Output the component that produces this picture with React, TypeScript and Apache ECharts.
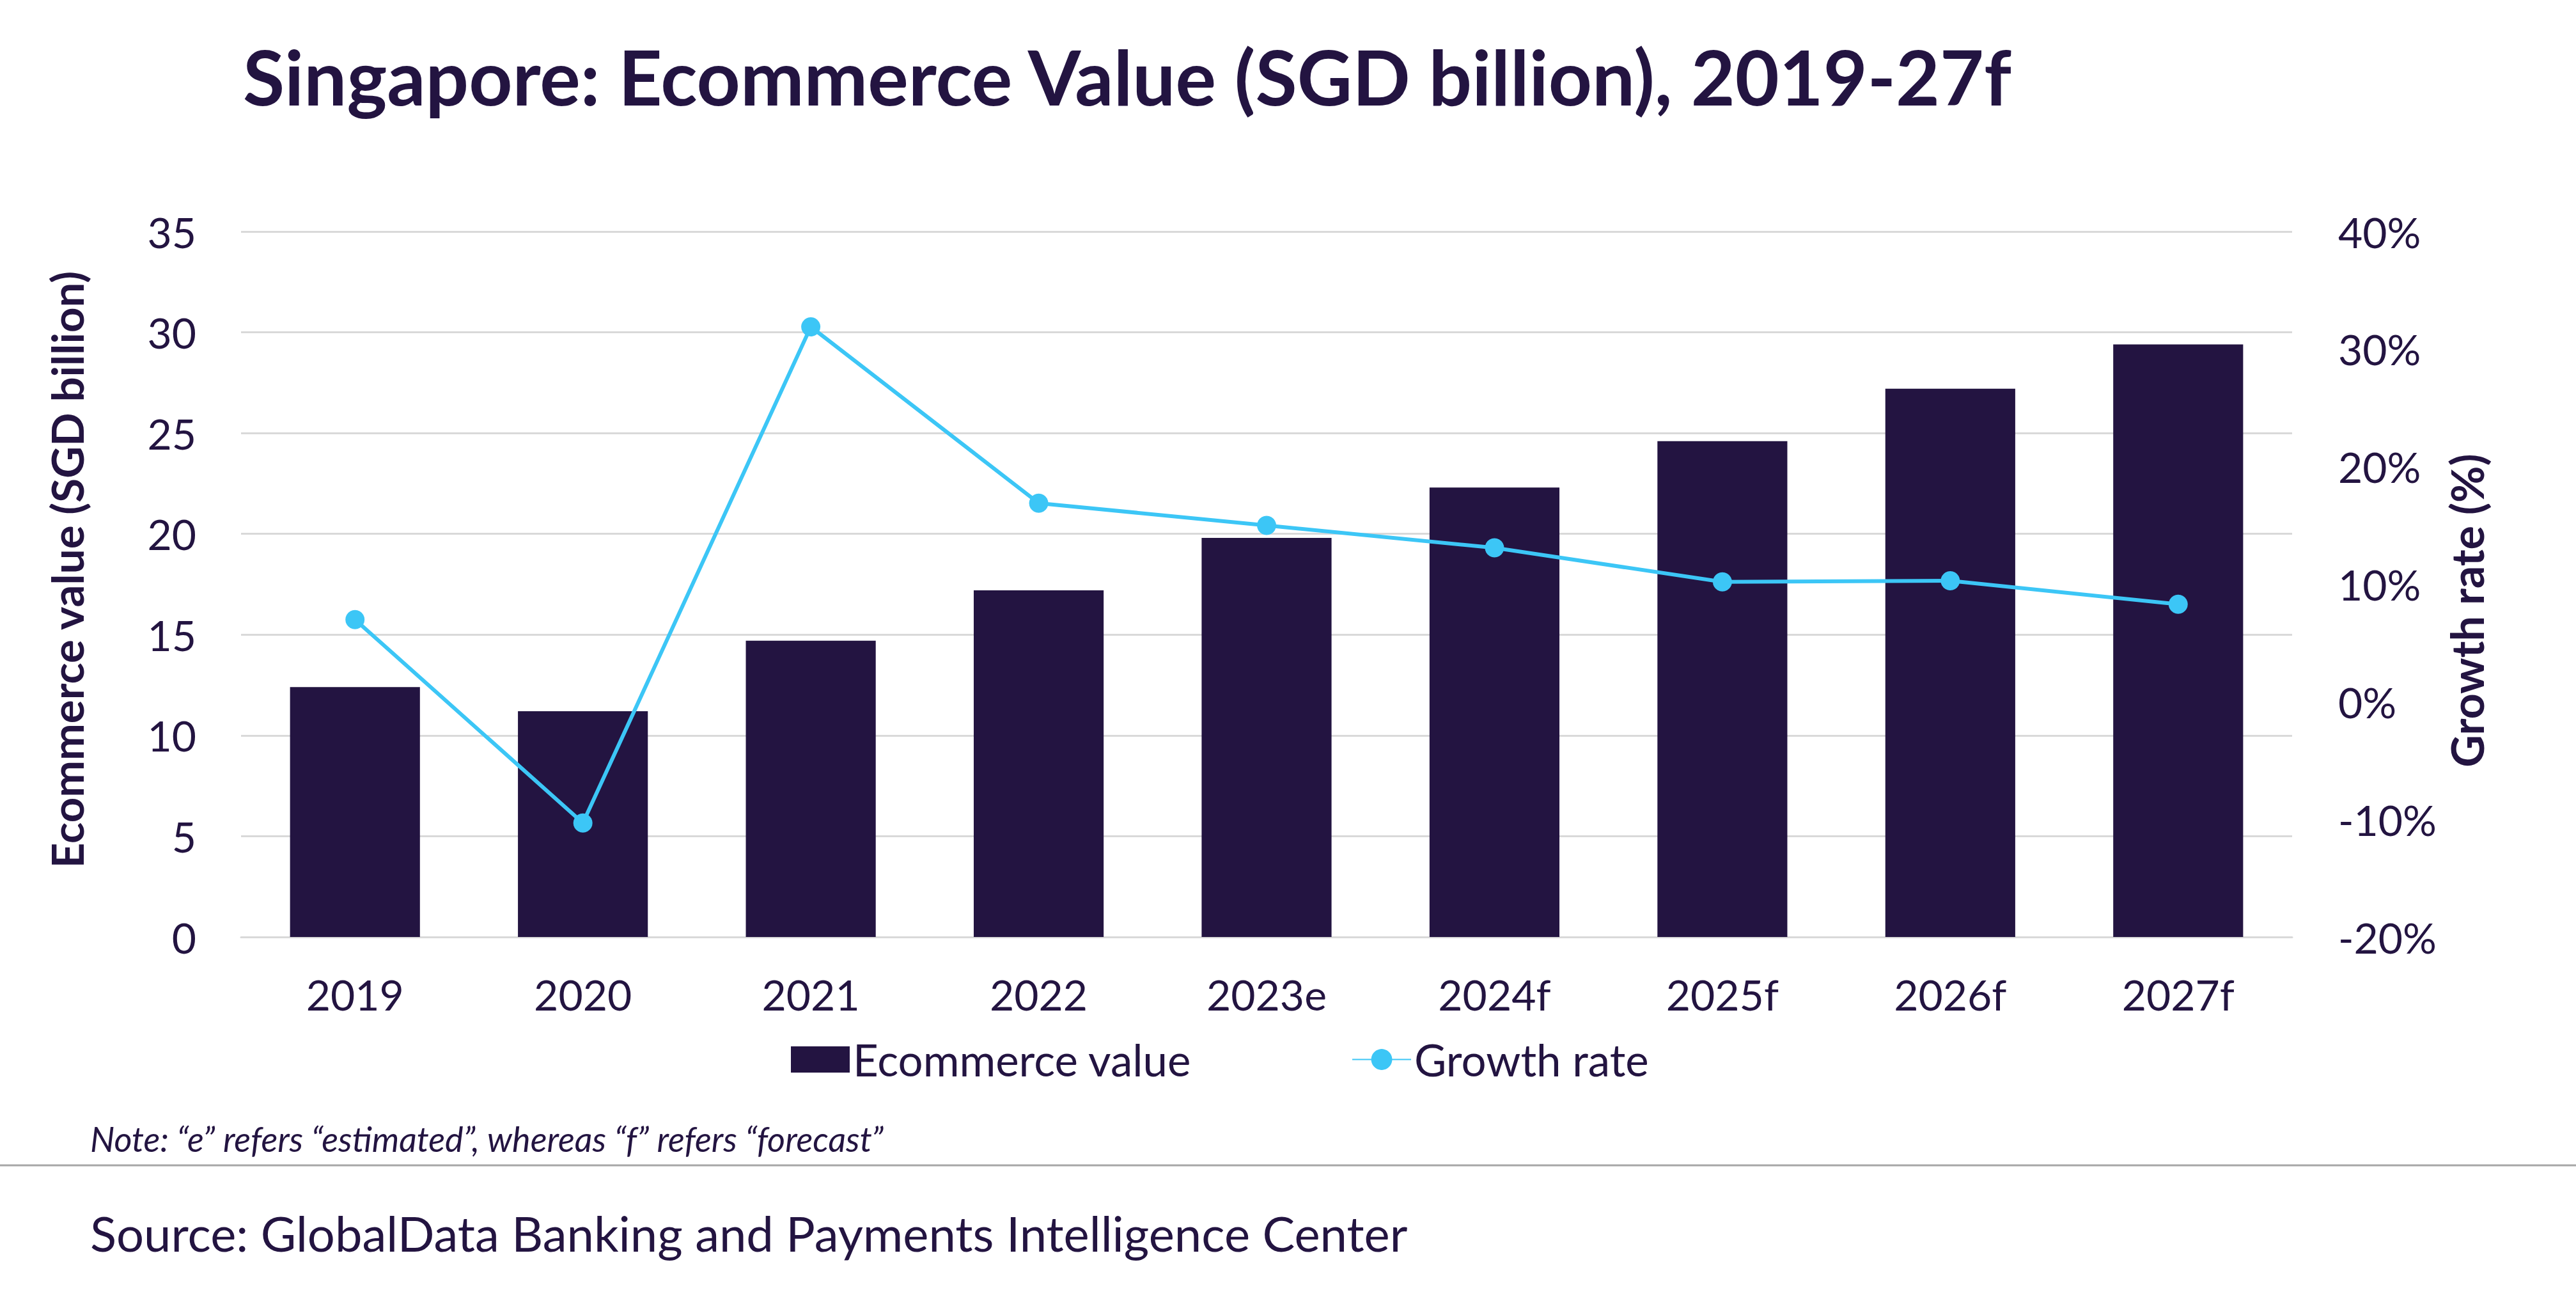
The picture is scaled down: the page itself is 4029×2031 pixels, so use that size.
import React, { useEffect, useRef } from "react";
import * as echarts from "echarts";

const categories = ["2019", "2020", "2021", "2022", "2023e", "2024f", "2025f", "2026f", "2027f"];
const ecommerceValue = [12.4, 11.2, 14.7, 17.2, 19.8, 22.3, 24.6, 27.2, 29.4];
const growthRate = [7.0, -10.3, 31.9, 16.9, 15.0, 13.1, 10.2, 10.3, 8.3];

const TEXT = "#231441";
const BAR = "#231441";
const LINE = "#3CC6F6";
const FONT = "Lato, 'Noto Sans', sans-serif";

export default function App() {
  const ref = useRef<HTMLDivElement>(null);
  useEffect(() => {
    document.body.style.margin = "0";
    const chart = echarts.init(ref.current!, null, { renderer: "svg" });
    chart.setOption({
      animation: false,
      backgroundColor: "#ffffff",
      textStyle: { fontFamily: FONT, color: TEXT },
      title: [
        {
          text: "Singapore: Ecommerce Value (SGD billion), 2019-27f",
          left: 375,
          top: 54,
          textStyle: { fontFamily: FONT, fontWeight: "bold", fontSize: 119, color: TEXT },
        },
        {
          text: "Note: \u201ce\u201d refers \u201cestimated\u201d, whereas \u201cf\u201d refers \u201cforecast\u201d",
          left: 136,
          top: 1748,
          textStyle: { fontFamily: FONT, fontStyle: "italic", fontWeight: "normal", fontSize: 54, color: TEXT },
        },
        {
          text: "Source: GlobalData Banking and Payments Intelligence Center",
          left: 136,
          top: 1884,
          textStyle: { fontFamily: FONT, fontWeight: "normal", fontSize: 76, color: TEXT },
        },
      ],
      graphic: [
        {
          type: "line",
          shape: { x1: 0, y1: 1822, x2: 4029, y2: 1822 },
          style: { stroke: "#A6A6A6", lineWidth: 3 },
        },
      ],
      legend: {
        left: 1232,
        top: 1617,
        itemWidth: 92,
        itemHeight: 41,
        itemGap: 250,
        textStyle: { fontFamily: FONT, fontSize: 69, color: TEXT },
        data: [
          { name: "Ecommerce value", icon: "rect" },
          { name: "Growth rate" },
        ],
      },
      grid: { left: 377, right: 444, top: 362, bottom: 566, containLabel: false },
      xAxis: {
        type: "category",
        data: categories,
        axisLine: { lineStyle: { color: "#D9D9D9", width: 3 } },
        axisTick: { show: false },
        axisLabel: { fontFamily: FONT, fontSize: 66, color: TEXT, margin: 56 },
      },
      yAxis: [
        {
          type: "value",
          min: 0,
          max: 35,
          interval: 5,
          name: "Ecommerce value (SGD billion)",
          nameLocation: "middle",
          nameGap: 238,
          nameTextStyle: {
            fontFamily: FONT,
            fontWeight: "bold",
            fontSize: 69,
            color: TEXT,
            padding: [0, 0, 0, 46],
          },
          axisLine: { show: false },
          axisTick: { show: false },
          axisLabel: { fontFamily: FONT, fontSize: 66, color: TEXT, margin: 70 },
          splitLine: { lineStyle: { color: "#D9D9D9", width: 3 } },
        },
        {
          type: "value",
          min: -20,
          max: 40,
          interval: 10,
          position: "right",
          name: "Growth rate (%)",
          nameLocation: "middle",
          nameGap: 238,
          nameTextStyle: {
            fontFamily: FONT,
            fontWeight: "bold",
            fontSize: 70,
            color: TEXT,
            padding: [0, 82, 0, 0],
          },
          axisLine: { show: false },
          axisTick: { show: false },
          axisLabel: { fontFamily: FONT, fontSize: 66, color: TEXT, margin: 72, formatter: "{value}%" },
          splitLine: { show: false },
        },
      ],
      series: [
        {
          name: "Ecommerce value",
          type: "bar",
          data: ecommerceValue,
          barWidth: "57%",
          itemStyle: { color: BAR },
        },
        {
          name: "Growth rate",
          type: "line",
          yAxisIndex: 1,
          data: growthRate,
          symbol: "circle",
          symbolSize: 30,
          lineStyle: { color: LINE, width: 6 },
          itemStyle: { color: LINE },
        },
      ],
    });
    return () => chart.dispose();
  }, []);
  return <div ref={ref} style={{ width: 4029, height: 2031 }} />;
}
